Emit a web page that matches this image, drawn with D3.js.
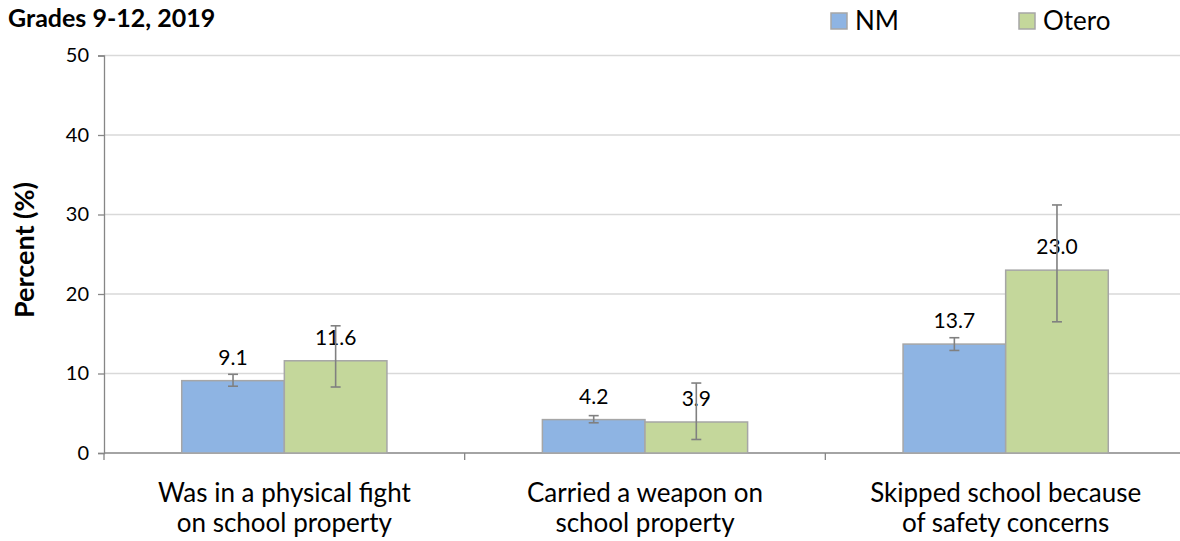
<!DOCTYPE html>
<html lang="en">
  <head>
    <meta charset="UTF-8" />
    <title>Grades 9-12, 2019</title>
    <script src="https://d3js.org/d3.v7.min.js"></script>
    <style>
      body { margin: 0; background: #fff; }
      text { font-family: Lato, "Open Sans", sans-serif; fill: #000; }
    </style>
  </head>
  <body>
    <div id="chart"></div>

    <script>
      // chart data
      const categories = [
        ["Was in a physical fight", "on school property"],
        ["Carried a weapon on", "school property"],
        ["Skipped school because", "of safety concerns"],
      ];
      const seriesNames = ["NM", "Otero"];
      const nmValues = [9.1, 4.2, 13.7];
      const oteroValues = [11.6, 3.9, 23.0];
      // confidence intervals [low, high]
      const nmCI = [[8.4, 9.9], [3.8, 4.7], [12.9, 14.5]];
      const oteroCI = [[8.3, 16.0], [1.7, 8.8], [16.5, 31.2]];
      const yTicks = [0, 10, 20, 30, 40, 50];

      const width = 1180, height = 541;
      const margin = { top: 55.5, right: -6, bottom: 88, left: 104 };
      const innerW = width - margin.left - margin.right;
      const innerH = height - margin.top - margin.bottom;

      const colors = ["#8EB4E3", "#C4D79B"];

      const svg = d3
        .select("#chart")
        .append("svg")
        .attr("width", width)
        .attr("height", height);

      const g = svg
        .append("g")
        .attr("transform", `translate(${margin.left},${margin.top})`);

      const idx = categories.map((d, i) => i);

      const x = d3.scaleBand().domain(idx).range([0, innerW]).padding(0);
      const x1 = d3
        .scaleBand()
        .domain(seriesNames)
        .range([x.bandwidth() * 0.2155, x.bandwidth() * 0.7845]);
      const y = d3.scaleLinear().domain([0, 50]).range([innerH, 0]);

      // gridlines
      g.append("g")
        .selectAll("line")
        .data(yTicks.slice(1))
        .join("line")
        .attr("x1", 0)
        .attr("x2", innerW)
        .attr("y1", (d) => y(d))
        .attr("y2", (d) => y(d))
        .attr("stroke", "#D9D9D9")
        .attr("stroke-width", 1.3);

      // y axis
      const yAxis = g
        .append("g")
        .call(d3.axisLeft(y).tickValues(yTicks).tickSize(6).tickPadding(9));
      yAxis.select(".domain").attr("stroke", "#868686").attr("stroke-width", 1.3);
      yAxis.selectAll(".tick line").attr("stroke", "#868686").attr("stroke-width", 1.3);
      yAxis.selectAll(".tick text").style("font-size", "20px").style("font-family", "Lato, sans-serif");

      // x axis line + ticks at category boundaries
      g.append("line")
        .attr("x1", 0)
        .attr("x2", innerW)
        .attr("y1", innerH)
        .attr("y2", innerH)
        .attr("stroke", "#868686")
        .attr("stroke-width", 1.3);
      g.append("g")
        .selectAll("line")
        .data(d3.range(categories.length + 1))
        .join("line")
        .attr("x1", (d) => d * x.bandwidth())
        .attr("x2", (d) => d * x.bandwidth())
        .attr("y1", innerH)
        .attr("y2", innerH + 7)
        .attr("stroke", "#868686")
        .attr("stroke-width", 1.3);

      // category labels
      const catLabels = g
        .append("g")
        .selectAll("text")
        .data(categories)
        .join("text")
        .attr("text-anchor", "middle")
        .attr("transform", (d, i) => `translate(${x(i) + x.bandwidth() / 2},${innerH + 49})`)
        .style("font-size", "26px");
      catLabels
        .selectAll("tspan")
        .data((d) => d)
        .join("tspan")
        .attr("x", 0)
        .attr("dy", (d, i) => (i === 0 ? 0 : 30))
        .text((d) => d);

      // bars
      const rows = idx.map((i) => [
        { key: "NM", value: nmValues[i], ci: nmCI[i], cat: i, color: colors[0] },
        { key: "Otero", value: oteroValues[i], ci: oteroCI[i], cat: i, color: colors[1] },
      ]);
      const bars = rows.flat();

      g.append("g")
        .selectAll("rect")
        .data(bars)
        .join("rect")
        .attr("x", (d) => x(d.cat) + x1(d.key))
        .attr("y", (d) => y(d.value))
        .attr("width", x1.bandwidth())
        .attr("height", (d) => innerH - y(d.value))
        .attr("fill", (d) => d.color)
        .attr("stroke", "#A6A6A6")
        .attr("stroke-width", 1.5);

      // value labels
      g.append("g")
        .selectAll("text")
        .data(bars)
        .join("text")
        .attr("x", (d) => x(d.cat) + x1(d.key) + x1.bandwidth() / 2)
        .attr("y", (d) => y(d.value) - 16)
        .attr("text-anchor", "middle")
        .style("font-size", "21px")
        .text((d) => d.value.toFixed(1));

      // error bars
      const err = g.append("g").attr("stroke", "#808080").attr("stroke-width", 1.6);
      const cx = (d) => x(d.cat) + x1(d.key) + x1.bandwidth() / 2;
      err.selectAll(".v")
        .data(bars)
        .join("line")
        .attr("x1", cx)
        .attr("x2", cx)
        .attr("y1", (d) => y(d.ci[0]))
        .attr("y2", (d) => y(d.ci[1]));
      err.selectAll(".cap")
        .data(bars.flatMap((d) => [{ d, v: d.ci[0] }, { d, v: d.ci[1] }]))
        .join("line")
        .attr("x1", (e) => cx(e.d) - 5)
        .attr("x2", (e) => cx(e.d) + 5)
        .attr("y1", (e) => y(e.v))
        .attr("y2", (e) => y(e.v));

      // title
      svg.append("text")
        .attr("x", 8)
        .attr("y", 27)
        .style("font-size", "25px")
        .style("font-weight", "bold")
        .text("Grades 9-12, 2019");

      // y axis title
      svg.append("text")
        .attr("transform", "translate(34,250) rotate(-90)")
        .attr("text-anchor", "middle")
        .style("font-size", "27px")
        .style("font-weight", "bold")
        .text("Percent (%)");

      // legend
      const legendX = [831, 1019];
      const legend = svg
        .append("g")
        .selectAll("g")
        .data(seriesNames)
        .join("g")
        .attr("transform", (d, i) => `translate(${legendX[i]},13)`);
      legend.append("rect")
        .attr("width", 16)
        .attr("height", 16)
        .attr("fill", (d, i) => colors[i])
        .attr("stroke", "#A6A6A6")
        .attr("stroke-width", 1.5);
      legend.append("text")
        .attr("x", 24)
        .attr("y", 17)
        .style("font-size", "26px")
        .text((d) => d);
    </script>
  </body>
</html>
